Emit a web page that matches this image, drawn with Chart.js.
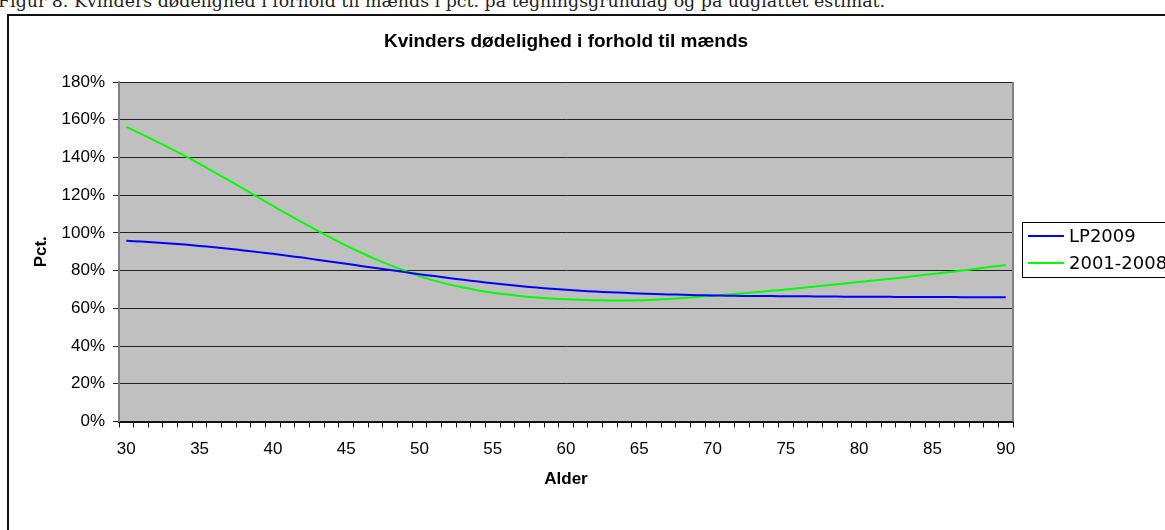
<!DOCTYPE html>
<html lang="da">
<head>
<meta charset="UTF-8">
<style>
    * { margin: 0; padding: 0; box-sizing: border-box; }
    body {
        width: 1165px;
        height: 530px;
        overflow: hidden;
        background: #fff;
        position: relative;
    }
    .caption {
        position: absolute;
        left: -2px;
        top: -9px;
        font-family: "DejaVu Serif", serif;
        font-size: 17.4px;
        line-height: 20px;
        color: #222;
        white-space: nowrap;
    }
    .frame {
        position: absolute;
        left: 7px;
        top: 14px;
        width: 1200px;
        height: 600px;
        border: 2px solid #111;
    }
    #chart {
        position: absolute;
        left: 0;
        top: 0;
    }
</style>
</head>
<body>
<div class="caption">Figur 8. Kvinders dødelighed i forhold til mænds i pct. på tegningsgrundlag og på udglattet estimat.</div>
<div class="frame"></div>
<canvas id="chart" width="1165" height="530"></canvas>

<script src="https://cdn.jsdelivr.net/npm/chart.js@4.4.0/dist/chart.umd.min.js"></script>
<script>
// alder (kategorier)
const ages = [30, 31, 32, 33, 34, 35, 36, 37, 38, 39,
              40, 41, 42, 43, 44, 45, 46, 47, 48, 49,
              50, 51, 52, 53, 54, 55, 56, 57, 58, 59,
              60, 61, 62, 63, 64, 65, 66, 67, 68, 69,
              70, 71, 72, 73, 74, 75, 76, 77, 78, 79,
              80, 81, 82, 83, 84, 85, 86, 87, 88, 89, 90];

// LP2009 (pct.)
const lp2009 = [95.8, 95.4, 94.9, 94.4, 93.8, 93.1, 92.4, 91.6, 90.7, 89.8,
                88.9, 87.9, 86.9, 85.8, 84.7, 83.6, 82.5, 81.4, 80.3, 79.2,
                78.1, 77.1, 76.1, 75.1, 74.2, 73.3, 72.5, 71.7, 71.0, 70.4,
                69.8, 69.3, 68.9, 68.5, 68.2, 67.9, 67.6, 67.4, 67.2, 67.0,
                66.8, 66.7, 66.6, 66.5, 66.5, 66.4, 66.4, 66.3, 66.3, 66.2,
                66.2, 66.1, 66.1, 66.0, 66.0, 66.0, 66.0, 65.9, 65.9, 65.9, 65.9];

// 2001-2008 (pct.)
const obs2001_2008 = [156.2, 152.5, 148.7, 144.8, 140.8, 136.6, 132.2, 127.8, 123.3, 118.8,
                      114.3, 109.9, 105.6, 101.3, 97.2, 93.3, 89.6, 86.1, 82.9, 79.9,
                      77.1, 74.7, 72.7, 71.0, 69.5, 68.3, 67.3, 66.4, 65.7, 65.2,
                      64.8, 64.5, 64.3, 64.2, 64.2, 64.3, 64.6, 65.0, 65.5, 66.1,
                      66.7, 67.3, 67.9, 68.6, 69.3, 70.0, 70.8, 71.6, 72.4, 73.2,
                      74.0, 74.8, 75.6, 76.4, 77.3, 78.2, 79.1, 80.0, 81.0, 82.0, 83.0];

const yTicks = [0, 20, 40, 60, 80, 100, 120, 140, 160, 180];

const tickFont = { family: 'Liberation Sans, Arial, sans-serif', size: 17 };
const boldFont = { family: 'Liberation Sans, Arial, sans-serif', size: 17, weight: 'bold' };

// baggrund, ramme, titel og legende tegnes her
const excelLook = {
    id: 'excelLook',
    beforeDraw(chart) {
        const a = chart.chartArea;
        const c = chart.ctx;
        c.save();
        c.fillStyle = '#c0c0c0';
        c.fillRect(a.left, a.top, a.right - a.left, a.bottom - a.top);
        c.restore();
    },
    afterDraw(chart) {
        const a = chart.chartArea;
        const c = chart.ctx;
        c.save();
        // højre kant af plotområdet
        c.strokeStyle = '#808080';
        c.lineWidth = 2;
        c.beginPath();
        c.moveTo(a.right, a.top);
        c.lineTo(a.right, a.bottom);
        c.stroke();

        // titel
        c.fillStyle = '#000';
        c.font = 'bold 19px "Liberation Sans", Arial, sans-serif';
        c.textAlign = 'center';
        c.textBaseline = 'alphabetic';
        c.fillText('Kvinders dødelighed i forhold til mænds', (a.left + a.right) / 2, 47);

        // legende
        const lx = 1022, ly = 222, lw = 160, lh = 55;
        c.fillStyle = '#fff';
        c.fillRect(lx, ly, lw, lh);
        c.strokeStyle = '#000';
        c.lineWidth = 1;
        c.strokeRect(lx + 0.5, ly + 0.5, lw, lh);
        c.font = '18px "DejaVu Sans", Verdana, sans-serif';
        c.textAlign = 'left';
        c.textBaseline = 'middle';
        chart.data.datasets.forEach((ds, i) => {
            const y = 236 + i * 27;
            c.strokeStyle = ds.borderColor;
            c.lineWidth = 2;
            c.beginPath();
            c.moveTo(1028, y);
            c.lineTo(1064, y);
            c.stroke();
            c.fillStyle = '#000';
            c.fillText(ds.label, 1069, y + 1);
        });
        c.restore();
    }
};

new Chart(document.getElementById('chart'), {
    type: 'line',
    data: {
        labels: ages,
        datasets: [{
            label: 'LP2009',
            data: lp2009,
            borderColor: '#0000ff',
            borderWidth: 2,
            pointRadius: 0,
            tension: 0.3
        }, {
            label: '2001-2008',
            data: obs2001_2008,
            borderColor: '#00ff00',
            borderWidth: 2,
            pointRadius: 0,
            tension: 0.3
        }]
    },
    options: {
        responsive: false,
        animation: false,
        layout: {
            padding: { left: 27, right: 152, top: 82, bottom: 36.5 }
        },
        plugins: {
            legend: { display: false },
            title: { display: false },
            tooltip: { enabled: false }
        },
        scales: {
            x: {
                type: 'category',
                offset: true,
                afterFit(scale) { scale.height = 72; },
                border: { display: true, color: '#111', width: 2 },
                grid: {
                    offset: true,
                    drawOnChartArea: false,
                    drawTicks: true,
                    tickLength: 6,
                    color: '#111',
                    lineWidth: 1
                },
                ticks: {
                    autoSkip: false,
                    maxRotation: 0,
                    color: '#000',
                    font: tickFont,
                    padding: 12,
                    callback: (v, i) => (ages[i] % 5 === 0 ? String(ages[i]) : '')
                },
                title: {
                    display: true,
                    text: 'Alder',
                    color: '#000',
                    font: boldFont,
                    padding: 4
                }
            },
            y: {
                min: 0,
                max: 180,
                afterFit(scale) { scale.width = 92; },
                afterBuildTicks(scale) { scale.ticks = yTicks.map(v => ({ value: v })); },
                border: { display: true, color: '#808080', width: 2 },
                grid: {
                    color: '#222',
                    lineWidth: 1,
                    tickLength: 6
                },
                ticks: {
                    color: '#000',
                    font: tickFont,
                    padding: 8,
                    callback: v => v + '%'
                },
                title: {
                    display: true,
                    text: 'Pct.',
                    color: '#000',
                    font: boldFont,
                    padding: 4
                }
            }
        }
    },
    plugins: [excelLook]
});
</script>
</body>
</html>
